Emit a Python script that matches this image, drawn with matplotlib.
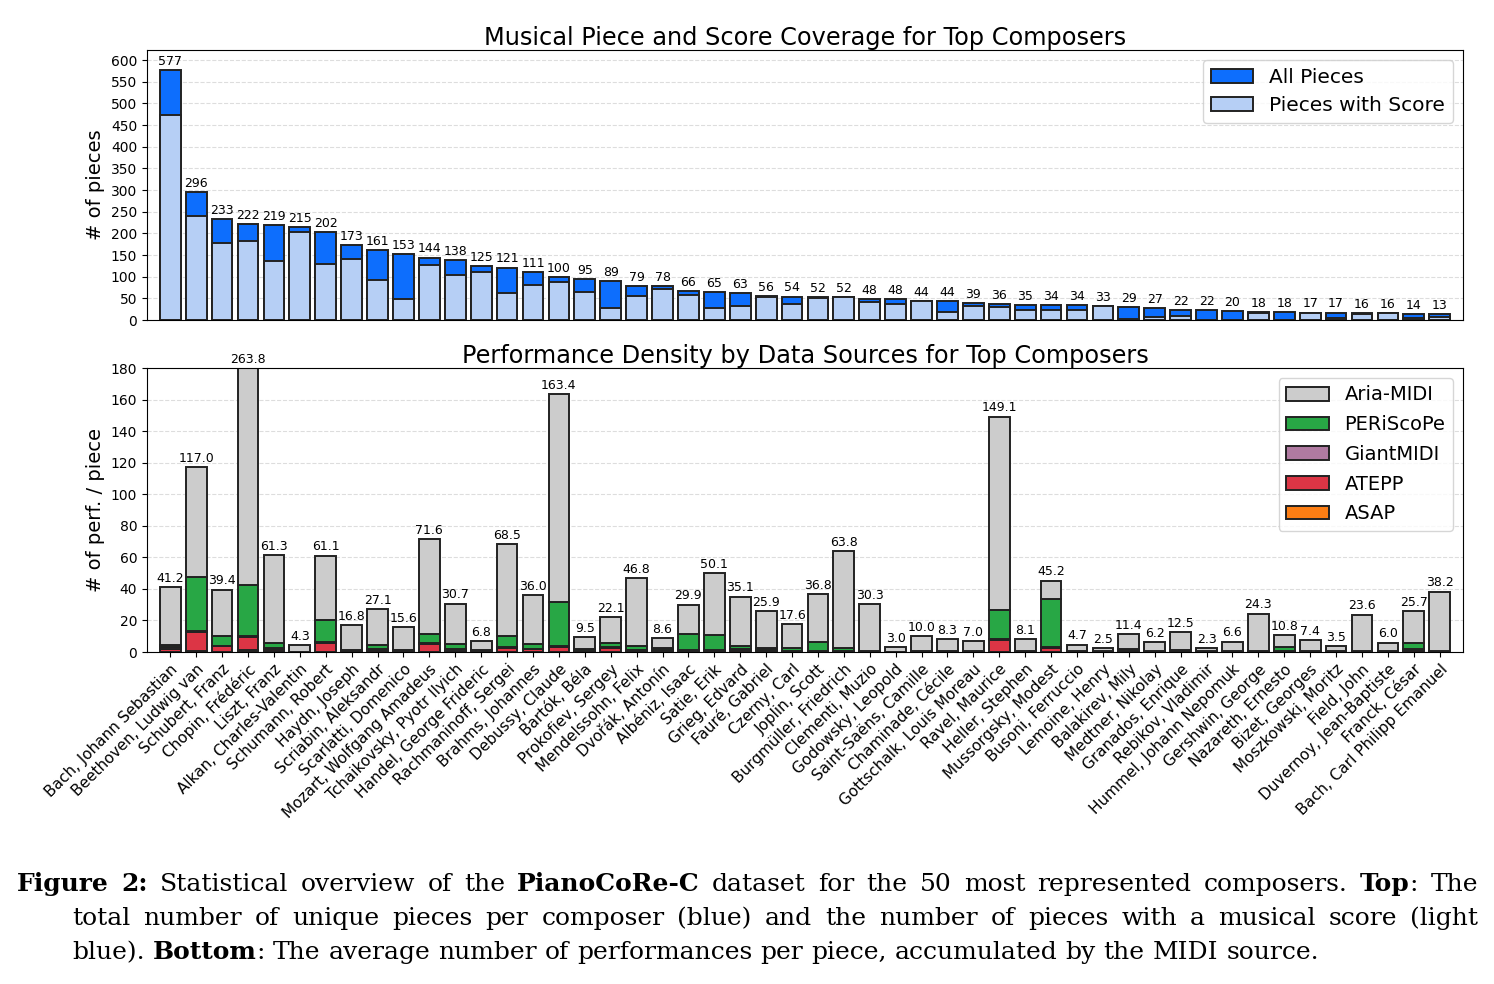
import numpy as np
import matplotlib
matplotlib.use("Agg")
import matplotlib.pyplot as plt

# composers (same order in both panels)
composers = ["Bach, Johann Sebastian", "Beethoven, Ludwig van", "Schubert, Franz", "Chopin, Frédéric",
             "Liszt, Franz", "Alkan, Charles-Valentin", "Schumann, Robert", "Haydn, Joseph",
             "Scriabin, Aleksandr", "Scarlatti, Domenico", "Mozart, Wolfgang Amadeus", "Tchaikovsky, Pyotr Ilyich",
             "Handel, George Frideric", "Rachmaninoff, Sergei", "Brahms, Johannes", "Debussy, Claude",
             "Bartók, Béla", "Prokofiev, Sergey", "Mendelssohn, Felix", "Dvořák, Antonín",
             "Albéniz, Isaac", "Satie, Erik", "Grieg, Edvard", "Fauré, Gabriel", "Czerny, Carl",
             "Joplin, Scott", "Burgmüller, Friedrich", "Clementi, Muzio", "Godowsky, Leopold",
             "Saint-Saëns, Camille", "Chaminade, Cécile", "Gottschalk, Louis Moreau", "Ravel, Maurice",
             "Heller, Stephen", "Mussorgsky, Modest", "Busoni, Ferruccio", "Lemoine, Henry",
             "Balakirev, Mily", "Medtner, Nikolay", "Granados, Enrique", "Rebikov, Vladimir",
             "Hummel, Johann Nepomuk", "Gershwin, George", "Nazareth, Ernesto", "Bizet, Georges",
             "Moszkowski, Moritz", "Field, John", "Duvernoy, Jean-Baptiste", "Franck, César",
             "Bach, Carl Philipp Emanuel"]

# top panel
all_pieces = [577, 296, 233, 222, 219, 215, 202, 173, 161, 153, 144, 138, 125, 121, 111, 100, 95, 89, 79, 78,
              66, 65, 63, 56, 54, 52, 52, 48, 48, 44, 44, 39, 36, 35, 34, 34, 33, 29, 27, 22,
              22, 20, 18, 18, 17, 17, 16, 16, 14, 13]
with_score = [473, 239, 177, 183, 136, 203, 129, 140, 92, 48, 128, 103, 111, 62, 80, 88, 65, 27, 56, 72,
              57, 27, 33, 52, 38, 50, 52, 42, 38, 43, 19, 33, 29, 23, 22, 22, 33, 2, 8, 10,
              1, 1, 17, 1, 16, 5, 15, 16, 4, 8]

# bottom panel: avg performances per piece by source
asap = [0.3, 0.5, 0.3, 1.0, 0.6, 0, 0.3, 0.1, 0, 0, 0.3, 0, 0, 0.1, 0.2, 0.3, 0, 0.2, 0, 0,
        0, 0, 0, 0, 0, 0, 0, 0, 0, 0, 0, 0, 0.3, 0, 0.3, 0, 0, 0, 0, 0,
        0, 0, 0, 0, 0, 0, 0, 0, 0, 0]
atepp = [1.8, 12.3, 3.2, 8.4, 1.0, 0, 5.3, 0.3, 1.0, 0.3, 4.7, 0.8, 0.2, 2.7, 1.5, 2.8, 0.3, 2.5, 0.5, 0.2,
         0.3, 0.2, 1.2, 0.3, 0, 0, 0, 0.1, 0, 0, 0, 0, 7.2, 0, 2.4, 0, 0, 0.5, 0, 0,
         0, 0, 0, 0, 0, 0, 0, 0, 1.3, 0]
giantmidi = [0.8, 0.5, 0.5, 0.5, 0.7, 0.3, 0.5, 0.8, 0.8, 1.0, 0.5, 0.8, 0.8, 0.6, 0.5, 0.5, 0.6, 0.5, 0.8, 0.8,
             0.7, 0.8, 0.6, 0.7, 0.8, 0.8, 0.8, 0.5, 0.1, 0.4, 0.4, 0.4, 0.7, 0.6, 0.5, 0.5, 0.4, 0.8, 0.6, 0.5,
             0.8, 0.7, 0.4, 0.8, 0.7, 0.6, 0.6, 0.4, 0.7, 0.8]
periscope = [1.7, 34.4, 5.9, 32.3, 3.4, 0, 14.4, 0.2, 2.5, 0.1, 5.9, 3.6, 0, 6.9, 2.7, 28.3, 1.0, 2.7, 2.3, 1.3,
             10.4, 9.8, 2.2, 1.3, 1.9, 5.7, 1.9, 0.1, 0, 0, 0, 0, 18.6, 0, 30.3, 0, 0, 0.3, 0, 0.7,
             0, 0, 0, 2.4, 0, 0, 0, 0, 3.7, 0]
aria = [36.6, 69.3, 29.5, 221.6, 55.6, 4.0, 40.6, 15.4, 22.8, 14.2, 60.2, 25.5, 5.8, 58.2, 31.1, 131.5, 7.6, 16.2, 43.2, 6.3,
        18.5, 39.3, 31.1, 23.6, 14.9, 30.3, 61.1, 29.6, 2.9, 9.6, 7.9, 6.6, 122.3, 7.5, 11.7, 4.2, 2.1, 9.8, 5.6, 11.3,
        1.5, 5.9, 23.9, 7.6, 6.7, 2.9, 23.0, 5.6, 20.0, 37.4]

W, H = 1494, 984
fig = plt.figure(figsize=(W / 100, H / 100), dpi=100)
ax1 = fig.add_axes([147 / W, 1 - 320 / H, 1316 / W, 270 / H])
ax2 = fig.add_axes([147 / W, 1 - 652 / H, 1316 / W, 284 / H])

x = np.arange(len(composers))
ec = "#222222"

# ---- top
ax1.bar(x, all_pieces, 0.8, color="#0d6efd", edgecolor=ec, linewidth=1.4, label="All Pieces", zorder=2)
ax1.bar(x, with_score, 0.8, color="#b6cff5", edgecolor=ec, linewidth=1.4, label="Pieces with Score", zorder=2)
for xi, v in zip(x, all_pieces):
    ax1.text(xi, v + 5, str(v), ha="center", va="bottom", fontsize=9)
ax1.set_ylim(0, max(all_pieces) * 1.08)
ax1.set_yticks(range(0, 601, 50))
ax1.set_xlim(-0.9, len(x) - 0.1)
ax1.tick_params(axis="x", bottom=False, labelbottom=False)
ax1.tick_params(axis="y", labelsize=10)
ax1.set_ylabel("# of pieces", fontsize=14)
ax1.set_title("Musical Piece and Score Coverage for Top Composers", fontsize=17.3, pad=3)
ax1.grid(axis="y", linestyle="--", color="#dddddd", linewidth=0.8, zorder=0)
ax1.legend(loc="upper right", fontsize=14.5, handlelength=2.1, labelspacing=0.45, fancybox=True)

# ---- bottom (stacked)
sources = [("ASAP", asap, "#fd7e14"), ("ATEPP", atepp, "#dc3545"), ("GiantMIDI", giantmidi, "#b07aa1"),
           ("PERiScoPe", periscope, "#28a745"), ("Aria-MIDI", aria, "#cccccc")]
bottom = np.zeros(len(x))
handles = []
for name, vals, col in sources:
    b = ax2.bar(x, vals, 0.8, bottom=bottom, color=col, edgecolor=ec, linewidth=1.4, label=name, zorder=2)
    handles.append(b)
    bottom = bottom + np.array(vals)
ymax = 180
for xi, tot in zip(x, bottom):
    ax2.text(xi, min(tot, ymax) + 1.5, f"{tot:.1f}", ha="center", va="bottom", fontsize=9, clip_on=False)
ax2.set_ylim(0, ymax)
ax2.set_yticks(range(0, 181, 20))
ax2.set_xlim(-0.9, len(x) - 0.1)
ax2.set_xticks(x)
ax2.set_xticklabels(composers, rotation=45, ha="right", rotation_mode="anchor", fontsize=11)
ax2.tick_params(axis="y", labelsize=10)
ax2.set_ylabel("# of perf. / piece", fontsize=14)
ax2.set_title("Performance Density by Data Sources for Top Composers", fontsize=17.3, pad=3)
ax2.grid(axis="y", linestyle="--", color="#dddddd", linewidth=0.8, zorder=0)
ax2.legend(handles[::-1], [s[0] for s in sources][::-1], loc="upper right", fontsize=14,
           handlelength=2.2, labelspacing=0.55, fancybox=True)

# ---- caption (justified, serif)
fig.canvas.draw()
r = fig.canvas.get_renderer()
FS = 18
FAM = "DejaVu Serif"

caption = [
    (17, 891, True, [[("Figure", True)], [("2:", True)], [("Statistical", False)], [("overview", False)],
                     [("of", False)], [("the", False)], [("PianoCoRe-C", True)], [("dataset", False)],
                     [("for", False)], [("the", False)], [("50", False)], [("most", False)],
                     [("represented", False)], [("composers.", False)], [("Top", True), (":", False)],
                     [("The", False)]]),
    (72, 925, True, [[(w, False)] for w in
                     "total number of unique pieces per composer (blue) and the number of pieces with a musical score (light".split()]),
    (72, 959, False, [[("blue).", False)], [("Bottom", True), (":", False)]] +
     [[(w, False)] for w in "The average number of performances per piece, accumulated by the MIDI source.".split()]),
]
right = 1478
space = 8
for x0, y0, just, words in caption:
    objs = []
    widths = []
    for word in words:
        parts = []
        wsum = 0
        for txt, bold in word:
            t = fig.text(0, 0, txt, fontsize=FS, family=FAM, weight="bold" if bold else "normal",
                         va="baseline", ha="left")
            w = t.get_window_extent(r).width
            parts.append((t, w))
            wsum += w
        objs.append(parts)
        widths.append(wsum)
    gap = (right - x0 - sum(widths)) / (len(words) - 1) if just else space
    cx = x0
    for parts, w in zip(objs, widths):
        px = cx
        for t, pw in parts:
            t.set_position((px / W, 1 - y0 / H))
            px += pw
        cx += w + gap

fig.savefig("out.png", dpi=100)
